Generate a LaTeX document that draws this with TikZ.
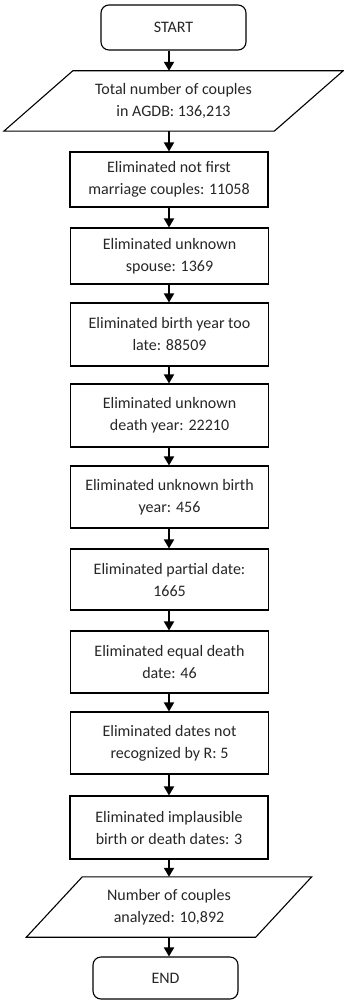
\documentclass[tikz,border=0pt]{standalone}
\usepackage{fontspec}
\setmainfont{Carlito}
\usetikzlibrary{arrows.meta}
\begin{document}
\begin{tikzpicture}[x=1pt,y=-1pt,
  txt/.style={font=\fontsize{16}{22}\selectfont, text=black!85, align=center, inner sep=0pt},
  procbox/.style={txt, draw, line width=1.1pt, minimum width=198pt},
  termbox/.style={txt, draw, line width=1.1pt, rounded corners=8pt, minimum width=145pt},
  iobox/.style={txt, minimum height=60pt},
  arr/.style={line width=1.8pt, -{Triangle[length=9pt,width=10pt]}}
]
\useasboundingbox (0,0) rectangle (343,1003);
\node[termbox, minimum height=45pt] (start) at (173.5,27.5) {START};
\node[iobox, minimum width=270pt] (p1) at (173.5,101) {Total number of couples\\in AGDB: 136,213};
\draw[line width=1.1pt] ([xshift=34.5pt]p1.north west) -- ([xshift=34.5pt]p1.north east) -- ([xshift=-34.5pt]p1.south east) -- ([xshift=-34.5pt]p1.south west) -- cycle;
\node[procbox, minimum height=55pt] (b1) at (169,179.5) {Eliminated not first\\marriage couples: 11058};
\node[procbox, minimum height=56pt] (b2) at (169.5,256) {Eliminated unknown\\spouse: 1369};
\node[procbox, minimum height=63pt] (b3) at (169.5,334.5) {Eliminated birth year too\\late: 88509};
\node[procbox, minimum height=63pt] (b4) at (169.5,415.5) {Eliminated unknown\\death year: 22210};
\node[procbox, minimum height=62pt] (b5) at (169.5,497) {Eliminated unknown birth\\year: 456};
\node[procbox, minimum height=61pt] (b6) at (169.5,579.5) {Eliminated partial date:\\1665};
\node[procbox, minimum height=62pt] (b7) at (169.5,662) {Eliminated equal death\\date: 46};
\node[procbox, minimum height=62pt] (b8) at (169.5,743) {Eliminated dates not\\recognized by R: 5};
\node[procbox, minimum height=63pt] (b9) at (169,827.5) {Eliminated implausible\\birth or death dates: 3};
\node[iobox, minimum width=229pt] (p2) at (169,907) {Number of couples\\analyzed: 10,892};
\draw[line width=1.1pt] ([xshift=28pt]p2.north west) -- ([xshift=28pt]p2.north east) -- ([xshift=-28pt]p2.south east) -- ([xshift=-28pt]p2.south west) -- cycle;
\node[termbox, minimum height=42pt] (end) at (165.5,978) {END};
\draw[arr] (start.south -| b1) -- (p1.north -| b1);
\draw[arr] (p1.south -| b1) -- (b1.north);
\draw[arr] (b1.south) -- (b2.north -| b1);
\draw[arr] (b2.south -| b1) -- (b3.north -| b1);
\draw[arr] (b3.south -| b1) -- (b4.north -| b1);
\draw[arr] (b4.south -| b1) -- (b5.north -| b1);
\draw[arr] (b5.south -| b1) -- (b6.north -| b1);
\draw[arr] (b6.south -| b1) -- (b7.north -| b1);
\draw[arr] (b7.south -| b1) -- (b8.north -| b1);
\draw[arr] (b8.south -| b1) -- (b9.north -| b1);
\draw[arr] (b9.south -| b1) -- (p2.north -| b1);
\draw[arr] (p2.south -| b1) -- (end.north -| b1);
\end{tikzpicture}
\end{document}
